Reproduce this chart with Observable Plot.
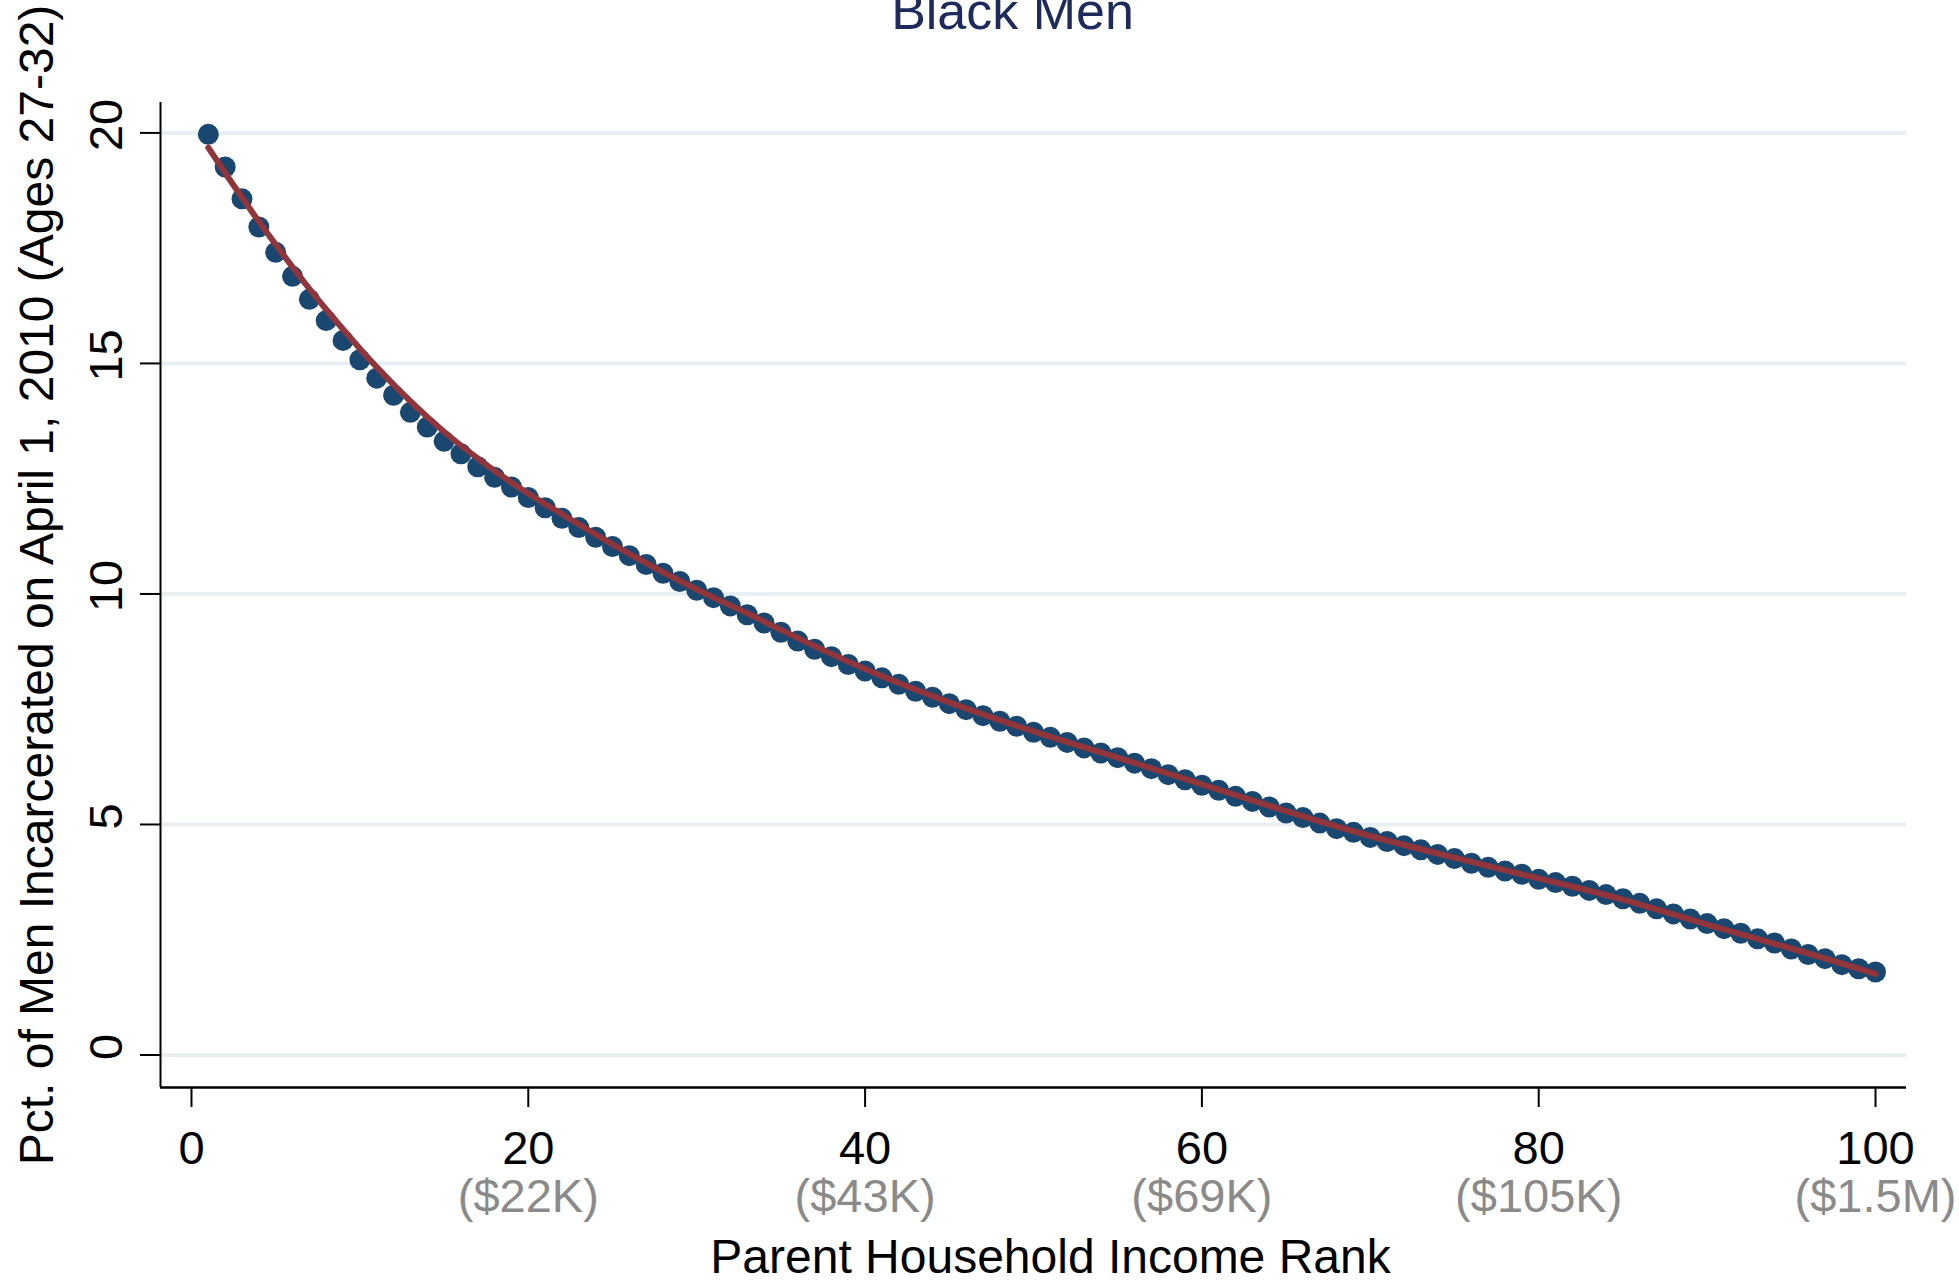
<!DOCTYPE html>
<html>
<head>
<meta charset="utf-8">
<script src="https://cdn.jsdelivr.net/npm/d3@7"></script>
<script src="https://cdn.jsdelivr.net/npm/@observablehq/plot@0.6"></script>
<style>
  html, body { margin: 0; padding: 0; background: #ffffff; }
  #chart { width: 1959px; height: 1283px; overflow: hidden; }
</style>
</head>
<body>
<div id="chart"></div>
<script>
// ---- Data ----
const titleText = "Black Men";
const xTitle = "Parent Household Income Rank";
const yTitle = "Pct. of Men Incarcerated on April 1, 2010 (Ages 27-32)";

const rank = d3.range(1, 101);
const incarcerated = [
  19.97, 19.26, 18.57, 17.96, 17.41, 16.89, 16.39, 15.93, 15.50, 15.08,
  14.68, 14.31, 13.94, 13.62, 13.31, 13.04, 12.76, 12.53, 12.32, 12.09,
  11.87, 11.64, 11.44, 11.23, 11.03, 10.83, 10.64, 10.45, 10.27, 10.08,
  9.92, 9.74, 9.55, 9.37, 9.17, 8.98, 8.80, 8.64, 8.47, 8.33,
  8.18, 8.04, 7.89, 7.76, 7.62, 7.49, 7.36, 7.24, 7.13, 7.00,
  6.89, 6.78, 6.66, 6.55, 6.45, 6.33, 6.21, 6.08, 5.97, 5.85,
  5.74, 5.61, 5.50, 5.38, 5.25, 5.15, 5.03, 4.91, 4.83, 4.72,
  4.63, 4.54, 4.45, 4.35, 4.26, 4.16, 4.07, 3.99, 3.92, 3.81,
  3.74, 3.66, 3.57, 3.48, 3.39, 3.29, 3.17, 3.06, 2.95, 2.85,
  2.74, 2.64, 2.52, 2.43, 2.30, 2.18, 2.09, 1.96, 1.87, 1.80
];

const fitRank  = [1, 2, 3, 4, 5, 6, 7, 8, 9, 10, 11, 12, 13, 14, 15, 16, 17, 18, 19, 20,
                  22, 26, 30, 33, 35, 40, 45, 50, 55, 60, 65, 70, 75, 80, 85, 90, 95, 100];
const fitValue = [19.68, 19.13, 18.60, 18.08, 17.58, 17.09, 16.62, 16.17, 15.74, 15.32,
                  14.92, 14.54, 14.18, 13.84, 13.52, 13.22, 12.94, 12.67, 12.42, 12.18,
                  11.73, 10.87, 10.10, 9.58, 9.22, 8.37, 7.65, 7.02, 6.45, 5.87,
                  5.29, 4.75, 4.28, 3.83, 3.37, 2.83, 2.31, 1.76];

const xTicks = [0, 20, 40, 60, 80, 100];
const xIncomeLabels = ["", "($22K)", "($43K)", "($69K)", "($105K)", "($1.5M)"];
const yTicks = [0, 5, 10, 15, 20];

const xDomain = [-1.84, 101.84];
const yDomain = [-0.705, 20.66];

// ---- Tables built from the arrays ----
const points = rank.map((r, i) => ({rank: r, value: incarcerated[i]}));
const fit = fitRank.map((r, i) => ({rank: r, value: fitValue[i]}));
const incomeLabels = xTicks.map((t, i) => ({tick: t, label: xIncomeLabels[i]})).filter(d => d.label);

// ---- Styles ----
const FONT = "'Liberation Sans', Arial, Helvetica, sans-serif";
const FS = 47;
const TFS = 48;
const navy = "#1a476f";
const maroon = "#90353b";
const gridColor = "#e8eff2";

const chart = Plot.plot({
  width: 1959,
  height: 1283,
  marginLeft: 160,
  marginRight: 53,
  marginTop: 102,
  marginBottom: 196,
  style: {fontFamily: FONT, background: "#ffffff", overflow: "visible"},
  x: {domain: xDomain},
  y: {domain: yDomain},
  marks: [
    // gridlines
    Plot.ruleY(yTicks, {stroke: gridColor, strokeWidth: 4}),
    // axis lines
    Plot.ruleX([xDomain[0]], {stroke: "#000", strokeWidth: 2}),
    Plot.ruleY([yDomain[0]], {stroke: "#000", strokeWidth: 2.5}),
    // tick marks
    Plot.axisX(xTicks, {tickSize: 20, stroke: "#000", strokeWidth: 2, tickFormat: () => "", label: null}),
    Plot.axisY(yTicks, {tickSize: 20, stroke: "#000", strokeWidth: 2, tickFormat: () => "", label: null}),
    // x tick labels
    Plot.text(xTicks, {x: d => d, text: d => String(d), frameAnchor: "bottom", dy: 61,
      fontSize: FS, fill: "#000", textAnchor: "middle", lineAnchor: "middle"}),
    Plot.text(incomeLabels, {x: "tick", text: "label", frameAnchor: "bottom", dy: 109,
      fontSize: FS, fill: "#8a8a8a", textAnchor: "middle", lineAnchor: "middle"}),
    // y tick labels (rotated)
    Plot.text(yTicks, {y: d => d, text: d => String(d), frameAnchor: "left", dx: -54, dy: -8,
      rotate: -90, fontSize: FS, fill: "#000", textAnchor: "middle", lineAnchor: "middle"}),
    // axis titles
    Plot.text([xTitle], {text: d => d, frameAnchor: "bottom", dy: 170, dx: 17,
      fontSize: TFS, fill: "#000", textAnchor: "middle", lineAnchor: "middle"}),
    Plot.text([yTitle], {text: d => d, frameAnchor: "left", dx: -123, dy: -10, rotate: -90,
      fontSize: TFS, fill: "#000", textAnchor: "middle", lineAnchor: "middle"}),
    // chart title
    Plot.text([titleText], {text: d => d, frameAnchor: "top", dx: -21, dy: -90,
      fontSize: 52, fill: "#1e2a5c", textAnchor: "middle", lineAnchor: "middle"}),
    // data
    Plot.dot(points, {x: "rank", y: "value", r: 10.5, fill: navy}),
    Plot.line(fit, {x: "rank", y: "value", stroke: maroon, strokeWidth: 6, curve: "natural"})
  ]
});

document.getElementById("chart").appendChild(chart);
</script>
</body>
</html>
